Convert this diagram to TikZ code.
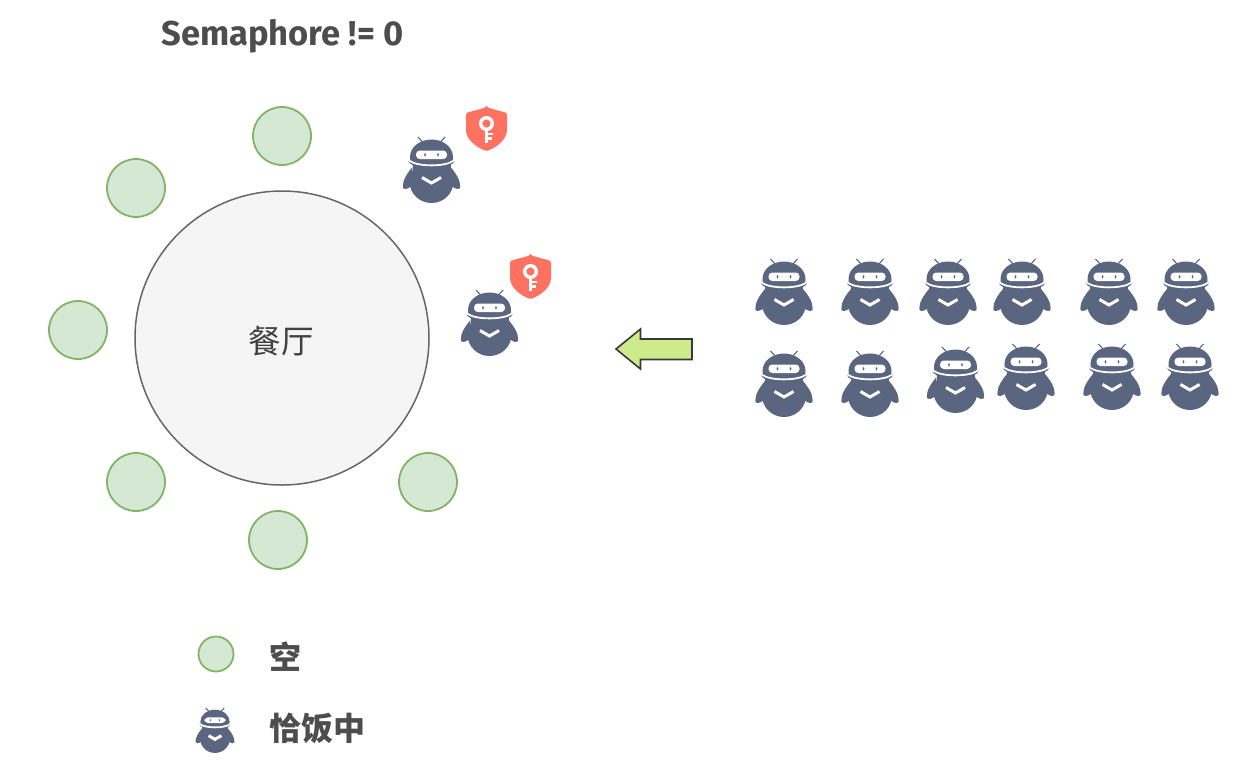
\documentclass[tikz,border=0pt]{standalone}
\usepackage{fontspec}
\setmainfont{Fira Sans}
\newfontfamily\cjk{Noto Sans CJK SC}
\definecolor{seatfill}{HTML}{D5E8D4}
\definecolor{seatline}{HTML}{82B366}
\definecolor{ninja}{HTML}{5A6580}
\definecolor{shield}{HTML}{FF7262}
\definecolor{txt}{HTML}{4D4D4D}
\definecolor{arrowfill}{HTML}{CDEB8B}
\definecolor{arrowline}{HTML}{36393D}
\tikzset{
  x=1pt,y=-1pt,
  seat/.style={circle,draw=seatline,fill=seatfill,line width=1.8pt,minimum size=58pt,inner sep=0pt},
  hall/.style={circle,draw=black!60,fill=black!4,line width=1.5pt,minimum size=294pt,inner sep=0pt},
  legendtext/.style={text=txt,font=\cjk\bfseries\fontsize{32}{32}\selectfont,inner sep=0pt},
  pics/ninjabot/.style={code={
    \draw[ninja,line width=1.1pt] (-13.5,-33) -- (-8,-27) (13.5,-33) -- (8,-27);
    \fill[ninja] (0,-13) ellipse (21.5 and 17.5);
    \fill[ninja] (0,11.5) ellipse (22 and 21.5);
    \fill[ninja] (0,-8.5) ellipse (23 and 5.5);
    \fill[ninja] (-19,-6) rectangle (19,4);
    \fill[ninja] (-19,-3) .. controls (-24,3) and (-29,10) .. (-28.7,17)
      .. controls (-28.5,20) and (-24,19.5) .. (-20,16) -- cycle;
    \fill[ninja] (19,-3) .. controls (24,3) and (29,10) .. (28.7,17)
      .. controls (28.5,20) and (24,19.5) .. (20,16) -- cycle;
    \fill[white,rounded corners=3.8pt] (-15.5,-19.5) rectangle (15.5,-11);
    \fill[ninja] (-6.5,-15.2) ellipse (1 and 1.8) (6.5,-15.2) ellipse (1 and 1.8);
    \draw[white,line width=1.8pt] (-22.5,-9.5) .. controls (-14,-3) and (14,-3) .. (22.5,-9.5);
    \draw[white,line width=3pt] (-9.5,7.5) -- (0,13) -- (9.5,7.5);
  }},
  pics/keyshield/.style={code={
    \fill[shield,rounded corners=1.5pt] (0,-21.5) .. controls (-7,-19) and (-14,-17.5) .. (-20.5,-15.5)
      -- (-20.5,0) .. controls (-20.5,11) and (-10,19) .. (0,22.5)
      .. controls (10,19) and (20.5,11) .. (20.5,0) -- (20.5,-15.5)
      .. controls (14,-17.5) and (7,-19) .. (0,-21.5) -- cycle;
    \draw[white,line width=3.4pt] (0,-5) circle (5.8);
    \draw[white,line width=3.6pt] (0,1) -- (0,14.5);
    \draw[white,line width=2.6pt] (0,5.5) -- (6.5,5.5) (0,10) -- (5,10);
  }}
}
\begin{document}
\begin{tikzpicture}
\useasboundingbox (0,0) rectangle (1253,780);
\fill[white] (0,0) rectangle (1253,780);
\node[text=txt,inner sep=0pt,font=\bfseries\fontsize{34.5}{35}\selectfont] (title) at (282.5,36) {Semaphore != 0};
\node[hall] (hall) at (282,338) {};
\node[text=black!75,inner sep=0pt,font=\cjk\fontsize{32.5}{33}\selectfont] (hallname) at (281,341) {餐厅};
\node[seat] (s1) at (282,136) {};
\node[seat] (s2) at (136,188) {};
\node[seat] (s3) at (78,330) {};
\node[seat] (s4) at (136,482) {};
\node[seat] (s5) at (278,540) {};
\node[seat] (s6) at (428,482) {};
\pic at (431.5,170) {ninjabot};
\pic at (489.5,323) {ninjabot};
\pic at (486.5,128.5) {keyshield};
\pic at (530.5,276.5) {keyshield};
\draw[arrowline,fill=arrowfill,line width=1.6pt,line join=miter]
  (616,349) -- (640.5,329) -- (640.5,339) -- (692,339) -- (692,359.5) -- (640.5,359.5) -- (640.5,369) -- cycle;
\foreach \px/\py in {784/292,870/292,948/292,1022/292,1109/292,1186/292,
                     784/384,870/384,955.5/380,1026/377,1112/377,1190/377}
  \pic at (\px,\py) {ninjabot};
\node[seat,minimum size=35pt] (legseat) at (216,654) {};
\node[legendtext] (legempty) at (285,657) {空};
\pic[scale=0.68] at (215,730.5) {ninjabot};
\node[legendtext] (legeat) at (317,728) {恰饭中};
\end{tikzpicture}
\end{document}
